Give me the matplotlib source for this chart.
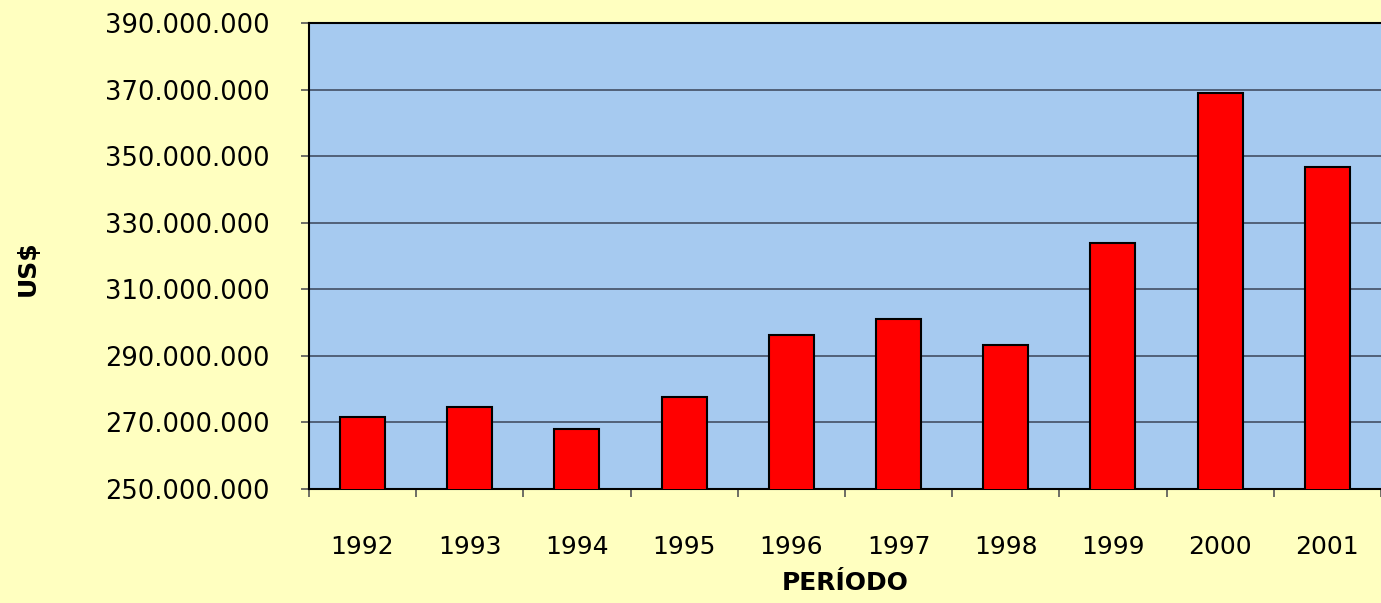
import matplotlib.pyplot as plt
import numpy as np
from matplotlib.ticker import FuncFormatter, FixedLocator

years = ["1992", "1993", "1994", "1995", "1996", "1997", "1998", "1999", "2000", "2001"]
values = [271.7e6, 274.7e6, 268.1e6, 277.7e6, 296.2e6, 301.1e6, 293.3e6, 324.0e6, 369.0e6, 346.8e6]
y_ticks = [250e6, 270e6, 290e6, 310e6, 330e6, 350e6, 370e6, 390e6]

bg = "#FFFFC0"
plot_bg = "#A6CAF0"

plt.rcParams["font.family"] = ["DejaVu Sans"]

fig = plt.figure(figsize=(13.81, 6.03), dpi=100, facecolor=bg)
ax = fig.add_axes([0.2237, 0.189, 0.7763, 0.773])
ax.set_facecolor(plot_bg)

x = np.arange(len(years))
ax.bar(x, values, width=0.42, color="#FF0000", edgecolor="black", linewidth=1.5, zorder=3)

ax.set_xlim(-0.5, len(years) - 0.5)
ax.set_ylim(250e6, 390e6)
ax.set_yticks(y_ticks)
ax.yaxis.set_major_formatter(FuncFormatter(lambda v, p: f"{v:,.0f}".replace(",", ".")))
ax.grid(axis="y", color="#3a4458", linewidth=1.1, zorder=1)

ax.set_xticks(x)
ax.set_xticklabels(years)
ax.xaxis.set_minor_locator(FixedLocator(np.arange(-0.5, len(years), 1.0)))
ax.tick_params(axis="x", which="major", length=0, pad=33, labelsize=18)
ax.tick_params(axis="x", which="minor", length=6, color="#555555", width=1.2)
ax.tick_params(axis="y", length=6, color="#555555", width=1.2, pad=22, labelsize=18.5)

for side in ["left", "bottom", "top"]:
    ax.spines[side].set_linewidth(1.5)
    ax.spines[side].set_color("black")
ax.spines["right"].set_visible(False)

ax.set_xlabel("PERÍODO", fontsize=18, fontweight="bold", labelpad=9)
ax.set_ylabel("US$", fontsize=18, fontweight="bold")
ax.yaxis.set_label_coords(-0.251, 0.475)

fig.savefig("out.png", dpi=100, facecolor=bg)
